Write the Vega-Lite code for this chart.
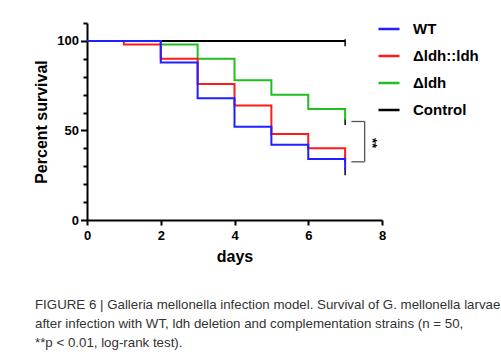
{
  "$schema": "https://vega.github.io/schema/vega-lite/v6.json",
  "width": 295,
  "height": 197,
  "autosize": {"type": "none"},
  "padding": {"left": 87, "top": 23, "right": 119, "bottom": 140},
  "background": "white",
  "title": {
    "text": ["FIGURE 6 | Galleria mellonella infection model. Survival of G. mellonella larvae", "after infection with WT, ldh deletion and complementation strains (n = 50,", "**p < 0.01, log-rank test)."],
    "orient": "bottom",
    "anchor": "start",
    "frame": "group",
    "dx": -52,
    "offset": 34,
    "font": "Liberation Sans",
    "fontSize": 13.3,
    "fontWeight": "normal",
    "color": "#333333",
    "lineHeight": 19
  },
  "config": {
    "view": {"stroke": null},
    "axis": {
      "labelFont": "Liberation Sans",
      "labelFontWeight": "bold",
      "labelFontSize": 13,
      "labelColor": "black",
      "titleFont": "Liberation Sans",
      "titleFontWeight": "bold",
      "titleFontSize": 16,
      "titleColor": "black",
      "domainColor": "black",
      "domainWidth": 2,
      "tickColor": "black",
      "tickWidth": 2,
      "grid": false
    }
  },
  "datasets": {
    "curves": [
      {"strain": "Control", "day": 0, "survival": 100},
      {"strain": "Control", "day": 7, "survival": 100},
      {"strain": "Δldh", "day": 0, "survival": 100},
      {"strain": "Δldh", "day": 2, "survival": 98},
      {"strain": "Δldh", "day": 3, "survival": 90},
      {"strain": "Δldh", "day": 4, "survival": 78},
      {"strain": "Δldh", "day": 5, "survival": 70},
      {"strain": "Δldh", "day": 6, "survival": 62},
      {"strain": "Δldh", "day": 7, "survival": 56},
      {"strain": "Δldh::ldh", "day": 0, "survival": 100},
      {"strain": "Δldh::ldh", "day": 1, "survival": 98},
      {"strain": "Δldh::ldh", "day": 2, "survival": 90},
      {"strain": "Δldh::ldh", "day": 3, "survival": 76},
      {"strain": "Δldh::ldh", "day": 4, "survival": 64},
      {"strain": "Δldh::ldh", "day": 5, "survival": 48},
      {"strain": "Δldh::ldh", "day": 6, "survival": 40},
      {"strain": "Δldh::ldh", "day": 7, "survival": 34},
      {"strain": "WT", "day": 0, "survival": 100},
      {"strain": "WT", "day": 2, "survival": 88},
      {"strain": "WT", "day": 3, "survival": 68},
      {"strain": "WT", "day": 4, "survival": 52},
      {"strain": "WT", "day": 5, "survival": 42},
      {"strain": "WT", "day": 6, "survival": 34},
      {"strain": "WT", "day": 7, "survival": 28}
    ],
    "censored": [
      {"strain": "Control", "day": 7, "survival": 99},
      {"strain": "Δldh", "day": 7, "survival": 55},
      {"strain": "Δldh::ldh", "day": 7, "survival": 34},
      {"strain": "WT", "day": 7, "survival": 27}
    ],
    "bracket": [
      {"day": 7.17, "day2": 7.53, "survival": 55, "survival2": 55},
      {"day": 7.53, "day2": 7.53, "survival": 55, "survival2": 32.5},
      {"day": 7.17, "day2": 7.53, "survival": 32.5, "survival2": 32.5}
    ],
    "sig": [
      {"day": 7.72, "survival": 43, "label": "**"}
    ]
  },
  "encoding": {
    "x": {"field": "day", "type": "quantitative", "scale": {"domain": [0, 8], "nice": false},
      "axis": {"values": [0, 2, 4, 6, 8], "title": "days", "tickSize": 5, "labelPadding": 4, "titlePadding": 6, "labelFlush": false}},
    "y": {"field": "survival", "type": "quantitative", "scale": {"domain": [0, 110], "nice": false},
      "axis": {"values": [0, 10, 20, 30, 40, 50, 60, 70, 80, 90, 100, 110],
        "labelExpr": "datum.value % 50 === 0 ? datum.label : ''",
        "labelOverlap": false,
        "tickSize": {"condition": {"test": "datum.value % 50 === 0", "value": 6.5}, "value": 4},
        "labelPadding": 2, "title": "Percent survival", "titlePadding": 7, "labelFlush": false}}
  },
  "layer": [
    {
      "data": {"name": "censored"},
      "mark": {"type": "point", "shape": "M0,-1V1", "size": 49, "strokeWidth": 1.5, "color": "black", "filled": false, "opacity": 1}
    },
    {
      "data": {"name": "curves"},
      "mark": {"type": "line", "interpolate": "step-after", "strokeWidth": 2},
      "encoding": {
        "color": {
          "field": "strain", "type": "nominal",
          "scale": {"domain": ["WT", "Δldh::ldh", "Δldh", "Control"], "range": ["#1f1fff", "#ff1a1a", "#1fbf1f", "#000000"]},
          "legend": {
            "title": null,
            "orient": "none",
            "legendX": 290,
            "legendY": -6,
            "padding": 0,
            "symbolType": "stroke",
            "symbolSize": 441,
            "symbolStrokeWidth": 2.5,
            "labelFont": "Liberation Sans",
            "labelFontWeight": "bold",
            "labelFontSize": 15,
            "labelColor": "black",
            "labelOffset": 12,
            "rowPadding": 7
          }
        },
        "order": {"field": "day", "type": "quantitative"}
      }
    },
    {
      "data": {"name": "bracket"},
      "mark": {"type": "rule", "color": "#555555", "strokeWidth": 1.3},
      "encoding": {
        "x2": {"field": "day2"},
        "y2": {"field": "survival2"}
      }
    },
    {
      "data": {"name": "sig"},
      "mark": {"type": "text", "angle": 90, "font": "Liberation Sans", "fontWeight": "bold", "fontSize": 13, "color": "black", "align": "center", "baseline": "middle"},
      "encoding": {
        "text": {"field": "label"}
      }
    }
  ]
}
